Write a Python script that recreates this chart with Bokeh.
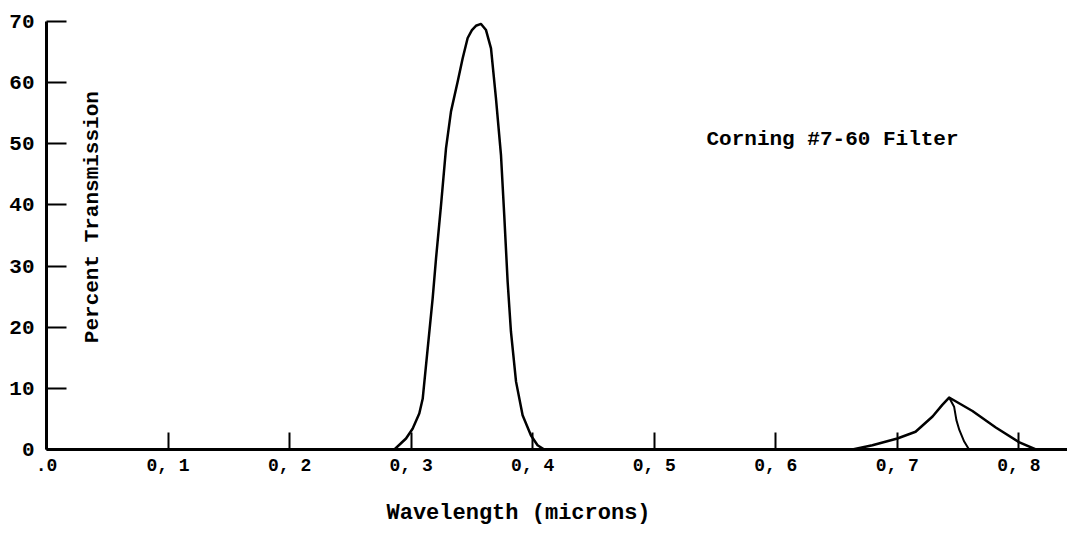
import math
from bokeh.plotting import figure
from bokeh.models import Range1d, FixedTicker, Label, Title
from bokeh.embed import file_html
from bokeh.resources import INLINE

# ---- data ----
uv_wavelength = [0.2862, 0.2958, 0.3012, 0.3067, 0.3095, 0.3136, 0.3177, 0.3205,
                 0.3246, 0.3287, 0.3328, 0.3383, 0.3424, 0.3465, 0.3500, 0.3533,
                 0.3575, 0.3616, 0.3657, 0.3698, 0.3739, 0.3766, 0.3794, 0.3821,
                 0.3863, 0.3917, 0.3986, 0.4040, 0.4095]
uv_transmission = [0.0, 1.8, 3.4, 5.9, 8.3, 16.5, 24.7, 31.3,
                   40.0, 49.3, 55.3, 60.2, 64.0, 67.3, 68.6, 69.3,
                   69.6, 68.6, 65.6, 57.4, 48.2, 38.3, 27.4, 19.3,
                   11.1, 5.6, 2.3, 0.7, 0.0]

ir_wavelength = [0.663, 0.6795, 0.700, 0.715, 0.729, 0.737, 0.7426,
                 0.7618, 0.781, 0.800, 0.814]
ir_transmission = [0.0, 0.7, 1.8, 2.9, 5.4, 7.3, 8.5,
                   6.3, 3.6, 1.2, 0.0]

ir_inner_wavelength = [0.7426, 0.7467, 0.7486, 0.751, 0.755, 0.759]
ir_inner_transmission = [8.5, 7.0, 4.8, 3.2, 1.3, 0.0]

x_ticks = [0.0, 0.1, 0.2, 0.3, 0.4, 0.5, 0.6, 0.7, 0.8]
x_tick_labels = [".0", "0, 1", "0, 2", "0, 3", "0, 4", "0, 5", "0, 6", "0, 7", "0, 8"]
y_ticks = [0, 10, 20, 30, 40, 50, 60, 70]

FONT = "Liberation Mono"

p = figure(width=1067, height=546, output_backend="svg", toolbar_location=None,
           x_range=Range1d(0, 0.84), y_range=Range1d(0, 70),
           min_border_left=46, min_border_right=0, min_border_top=21,
           min_border_bottom=95)
p.outline_line_color = None
p.grid.visible = False
p.background_fill_color = "white"
p.border_fill_color = "white"

# axes
p.xaxis.ticker = FixedTicker(ticks=x_ticks)
p.xaxis.major_label_overrides = {t: l for t, l in zip(x_ticks, x_tick_labels)}
p.xaxis.axis_line_width = 3
p.xaxis.axis_line_color = "black"
p.xaxis.major_tick_in = 17
p.xaxis.major_tick_out = 0
p.xaxis.major_tick_line_width = 2
p.xaxis.major_tick_line_color = "black"
p.xaxis.minor_tick_line_color = None
p.xaxis.major_label_text_font = FONT
p.xaxis.major_label_text_font_style = "bold"
p.xaxis.major_label_text_font_size = "18px"
p.xaxis.major_label_text_color = "black"
p.xaxis.major_label_standoff = 6

p.yaxis.ticker = FixedTicker(ticks=y_ticks)
p.yaxis.axis_line_width = 3
p.yaxis.axis_line_color = "black"
p.yaxis.major_tick_in = 20
p.yaxis.major_tick_out = 0
p.yaxis.major_tick_line_width = 2
p.yaxis.major_tick_line_color = "black"
p.yaxis.minor_tick_line_color = None
p.yaxis.major_label_text_font = FONT
p.yaxis.major_label_text_font_style = "bold"
p.yaxis.major_label_text_font_size = "21px"
p.yaxis.major_label_text_color = "black"
p.yaxis.major_label_standoff = 12

# curves
p.line(uv_wavelength, uv_transmission, line_color="black", line_width=2.5,
       line_join="round")
p.line(ir_wavelength, ir_transmission, line_color="black", line_width=2.5,
       line_join="round")
p.line(ir_inner_wavelength, ir_inner_transmission, line_color="black",
       line_width=2, line_join="round")

# texts
p.add_layout(Label(x=0.0378, y=38, text="Percent Transmission", angle=math.pi / 2,
                   text_align="center", text_baseline="middle",
                   text_font=FONT, text_font_style="bold",
                   text_font_size="21px", text_color="black"))
p.add_layout(Label(x=0.543, y=50.7, text="Corning #7-60 Filter",
                   text_align="left", text_baseline="middle",
                   text_font=FONT, text_font_style="bold",
                   text_font_size="21px", text_color="black"))
p.add_layout(Title(text="Wavelength (microns)", align="left", offset=340,
                   standoff=41, text_font=FONT, text_font_style="bold",
                   text_font_size="22px", text_color="black"), "below")

open("out.html", "w").write(file_html(p, INLINE))
